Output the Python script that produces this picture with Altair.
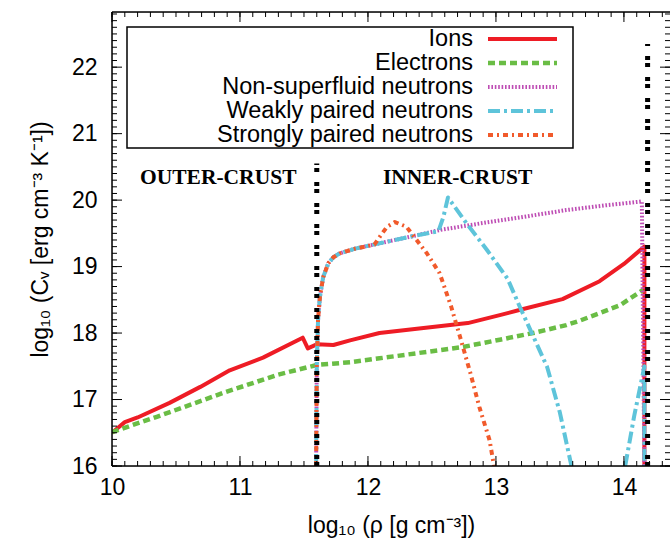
import altair as alt
import pandas as pd

# ---- heat capacity of crust components: log10(rho) vs log10(C_V) ----
ions_x = [10.0, 10.1, 10.2, 10.45, 10.69, 10.92, 11.18, 11.49, 11.53, 11.6, 11.73, 11.86,
          12.09, 12.4, 12.78, 13.03, 13.19, 13.52, 13.81, 14.0, 14.16, 14.16]
ions_y = [16.5, 16.66, 16.73, 16.95, 17.19, 17.44, 17.63, 17.93, 17.77, 17.83, 17.82, 17.89,
          18.0, 18.07, 18.15, 18.27, 18.35, 18.51, 18.78, 19.04, 19.3, 16.0]

electrons_x = [10.0, 10.35, 10.87, 11.29, 11.6, 11.86, 12.09, 12.74, 13.03, 13.29, 13.55,
               13.66, 13.81, 13.97, 14.15]
electrons_y = [16.51, 16.74, 17.1, 17.37, 17.52, 17.56, 17.62, 17.79, 17.9, 18.0, 18.12,
               18.19, 18.3, 18.42, 18.65]

normal_n_x = [11.595, 11.6, 11.61, 11.625, 11.65, 11.69, 11.73, 11.78, 11.9, 12.09, 12.38,
              12.56, 12.88, 13.19, 13.55, 13.85, 14.14, 14.16]
normal_n_y = [16.0, 17.5, 18.2, 18.55, 18.84, 19.05, 19.14, 19.2, 19.27, 19.35, 19.47,
              19.55, 19.65, 19.74, 19.85, 19.92, 19.98, 16.0]

weak_n_x = [11.595, 11.6, 11.61, 11.625, 11.65, 11.69, 11.73, 11.78, 11.9, 12.09, 12.38,
            12.55, 12.59, 12.625, 12.77, 12.93, 13.09, 13.19, 13.28, 13.4, 13.5, 13.59]
weak_n_y = [16.0, 17.5, 18.2, 18.55, 18.84, 19.05, 19.14, 19.2, 19.27, 19.35, 19.47,
            19.53, 19.75, 20.04, 19.65, 19.25, 18.82, 18.38, 18.0, 17.49, 16.8, 16.0]
# second branch of the weak-pairing curve near the crust-core interface
weak_n2_x = [14.01, 14.08, 14.16, 14.16]
weak_n2_y = [16.0, 16.75, 17.5, 16.0]

strong_n_x = [11.595, 11.6, 11.61, 11.625, 11.65, 11.69, 11.73, 11.78, 11.9, 12.05, 12.1,
              12.15, 12.21, 12.3, 12.38, 12.46, 12.56, 12.65, 12.72, 12.8, 12.87, 12.95, 12.985]
strong_n_y = [16.0, 17.5, 18.2, 18.55, 18.84, 19.05, 19.14, 19.2, 19.27, 19.33, 19.47,
              19.6, 19.67, 19.6, 19.4, 19.2, 18.9, 18.4, 17.94, 17.4, 16.89, 16.39, 16.0]

# crust boundaries (neutron drip, crust-core transition)
divider_x = [11.6, 14.185]
divider_top = [20.55, 22.35]

region_names = ["OUTER-CRUST", "INNER-CRUST"]
region_x = [10.83, 12.70]
region_y = [20.33, 20.33]

x_major = [10, 11, 12, 13, 14]
y_major = [16, 17, 18, 19, 20, 21, 22]

# ---- layout / styling ----
X_MIN, X_MAX = 10.0, 14.36
Y_MIN, Y_MAX = 16.0, 22.83
W, H = 558, 454
SANS = "Liberation Sans"

x_minor = [round(10 + 0.1 * i, 1) for i in range(44)]
y_minor = [round(16 + 0.1 * i, 1) for i in range(69)]

xs = alt.Scale(domain=[X_MIN, X_MAX], nice=False, zero=False)
ys = alt.Scale(domain=[Y_MIN, Y_MAX], nice=False, zero=False)

styles = [
    # label, color, dash, width
    ("Ions", "#EE1C25", [], 4),
    ("Electrons", "#6ABD45", [7, 4], 4.5),
    ("Non-superfluid neutrons", "#BE4DB4", [1.6, 1.8], 4),
    ("Weakly paired neutrons", "#5EC4DA", [12, 4, 3, 4], 4),
    ("Strongly paired neutrons", "#F15A2B", [5, 4, 2, 4], 4),
]

series = {
    "Ions": [(ions_x, ions_y)],
    "Electrons": [(electrons_x, electrons_y)],
    "Non-superfluid neutrons": [(normal_n_x, normal_n_y)],
    "Weakly paired neutrons": [(weak_n_x, weak_n_y), (weak_n2_x, weak_n2_y)],
    "Strongly paired neutrons": [(strong_n_x, strong_n_y)],
}


def frame_for(parts):
    rows = []
    for seg, (px, py) in enumerate(parts):
        for i, (a, b) in enumerate(zip(px, py)):
            rows.append({"x": a, "y": b, "seg": seg, "i": i})
    return pd.DataFrame(rows)


x_axis = alt.Axis(values=x_major, format="d", ticks=False, domain=False, grid=False,
                  labelFontSize=23, labelFont=SANS, labelColor="black", labelPadding=10,
                  labelFlush=False,
                  title="log₁₀ (ρ [g cm⁻³])", titleFont=SANS, titleFontSize=23,
                  titleFontWeight="normal", titleColor="black", titlePadding=15)
y_axis = alt.Axis(values=y_major, format="d", ticks=False, domain=False, grid=False,
                  labelFontSize=23, labelFont=SANS, labelColor="black", labelPadding=15,
                  labelFlush=False,
                  title="log₁₀ (Cᵥ [erg cm⁻³ K⁻¹])", titleFont=SANS, titleFontSize=23,
                  titleFontWeight="normal", titleColor="black", titlePadding=19)


def X(field):
    return alt.X(field, scale=xs, axis=x_axis)


def Y(field):
    return alt.Y(field, scale=ys, axis=y_axis)


layers = []
for name, color, dash, width in styles:
    df = frame_for(series[name])
    mark_kw = dict(color=color, strokeWidth=width, clip=True, strokeJoin="round")
    if dash:
        mark_kw["strokeDash"] = dash
        mark_kw["strokeCap"] = "butt"
    layers.append(
        alt.Chart(df).mark_line(**mark_kw).encode(
            x=X("x:Q"), y=Y("y:Q"), detail="seg:N", order="i:Q")
    )

# dotted boundary markers
div_rows = []
for j, (dx, top) in enumerate(zip(divider_x, divider_top)):
    div_rows.append({"x": dx, "y": Y_MIN, "id": j, "i": 0})
    div_rows.append({"x": dx, "y": top, "id": j, "i": 1})
layers.append(
    alt.Chart(pd.DataFrame(div_rows)).mark_line(
        color="black", strokeWidth=5, strokeDash=[4, 3, 4, 10], strokeCap="butt", clip=True
    ).encode(x=X("x:Q"), y=Y("y:Q"), detail="id:N", order="i:Q")
)

# region annotations
layers.append(
    alt.Chart(pd.DataFrame({"name": region_names, "x": region_x, "y": region_y}))
    .mark_text(font="Liberation Serif", fontWeight="bold", fontSize=21.5, color="black",
               align="center", baseline="middle")
    .encode(x=X("x:Q"), y=Y("y:Q"), text="name:N")
)

# inward ticks on all four sides
TICK_MAJ, TICK_MIN = 10, 5
one = pd.DataFrame({"k": [0]})
for vals, ln in ((x_minor, TICK_MIN), (x_major, TICK_MAJ)):
    d = pd.DataFrame({"v": vals})
    for y1, y2 in ((H, H - ln), (0, ln)):
        layers.append(
            alt.Chart(d).mark_rule(color="black", strokeWidth=1).encode(
                x=X("v:Q"), y=alt.value(y1), y2=alt.value(y2))
        )
for vals, ln in ((y_minor, TICK_MIN), (y_major, TICK_MAJ)):
    d = pd.DataFrame({"v": vals})
    for x1, x2 in ((0, ln), (W, W - ln)):
        layers.append(
            alt.Chart(d).mark_rule(color="black", strokeWidth=1).encode(
                y=Y("v:Q"), x=alt.value(x1), x2=alt.value(x2))
        )

# plot frame (left, top, bottom)
layers.append(alt.Chart(one).mark_rule(color="black", strokeWidth=1.5).encode(
    x=alt.value(0), y=alt.value(0), y2=alt.value(H)))
layers.append(alt.Chart(one).mark_rule(color="black", strokeWidth=1.5).encode(
    x=alt.value(0), x2=alt.value(W), y=alt.value(0)))
layers.append(alt.Chart(one).mark_rule(color="black", strokeWidth=1.5).encode(
    x=alt.value(0), x2=alt.value(W), y=alt.value(H)))

# key box with labels on the left and line samples on the right
KEY_LEFT, KEY_RIGHT, KEY_TOP, KEY_BOTTOM = 15, 461, 15, 136
KEY_TEXT_X, KEY_LINE_X0, KEY_LINE_X1 = 361, 376, 445
KEY_ROW0, KEY_STEP = 27, 24
layers.append(alt.Chart(one).mark_rect(fillOpacity=0, stroke="black", strokeWidth=1.5).encode(
    x=alt.value(KEY_LEFT), x2=alt.value(KEY_RIGHT), y=alt.value(KEY_TOP), y2=alt.value(KEY_BOTTOM)))
for r, (name, color, dash, width) in enumerate(styles):
    ry = KEY_ROW0 + KEY_STEP * r
    layers.append(
        alt.Chart(pd.DataFrame({"label": [name]})).mark_text(
            font=SANS, fontSize=23.5, color="black", align="right", baseline="middle"
        ).encode(x=alt.value(KEY_TEXT_X), y=alt.value(ry), text="label:N")
    )
    rule_kw = dict(color=color, strokeWidth=width)
    if dash:
        rule_kw["strokeDash"] = dash
        rule_kw["strokeCap"] = "butt"
    layers.append(
        alt.Chart(one).mark_rule(**rule_kw).encode(
            x=alt.value(KEY_LINE_X0), x2=alt.value(KEY_LINE_X1), y=alt.value(ry))
    )

chart = alt.layer(*layers).properties(
    width=W, height=H,
    autosize=alt.AutoSizeParams(type="none"),
    padding={"left": 112, "top": 12, "right": 0, "bottom": 78},
).configure_view(stroke=None).configure(background="white")

chart.save("out.html", embed_options={"renderer": "svg", "actions": False})
